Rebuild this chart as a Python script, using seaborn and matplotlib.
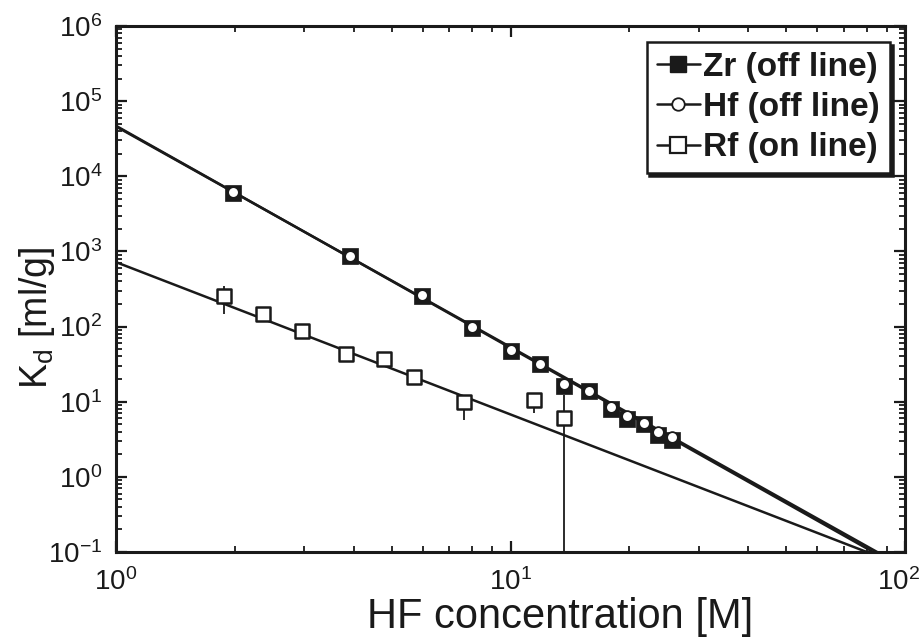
import matplotlib
matplotlib.use("Agg")
import matplotlib.pyplot as plt
import seaborn as sns
import numpy as np
import pandas as pd
from matplotlib.lines import Line2D
from matplotlib.ticker import LogLocator, NullFormatter
from matplotlib.transforms import ScaledTranslation

# ---------------- data ----------------
hf_conc = [1.98, 3.92, 5.96, 7.97, 10.0, 11.9, 13.7, 15.8, 18.0, 19.7, 21.8, 23.6, 25.7]
zr_kd = [6000, 880, 255, 97, 48, 31.5, 16.0, 13.8, 8.0, 5.9, 5.0, 3.6, 3.1]
hf_kd = [6100, 880, 260, 98, 49, 32, 17.0, 14.0, 8.4, 6.4, 5.2, 4.0, 3.4]

rf_conc = [1.88, 2.36, 2.96, 3.82, 4.79, 5.69, 7.64, 11.5, 13.66]
rf_kd = [259, 148, 87, 42.6, 36.6, 21.3, 9.9, 10.4, 6.0]
rf_low = [149, 148, 87, 42.6, 36.6, 21.3, 5.7, 7.1, 0.01]
rf_high = [352, 148, 87, 42.6, 36.6, 21.3, 9.9, 10.4, 12.3]

fit_zr_x = [1.0, 83.0]
fit_zr_y = [4.7e4, 0.1]
fit_hf_x = [1.0, 85.0]
fit_hf_y = [4.6e4, 0.1]
fit_rf_x = [1.0, 80.0]
fit_rf_y = [720, 0.1]

x_ticks = [1, 10, 100]
x_ticklabels = [r"$10^{0}$", r"$10^{1}$", r"$10^{2}$"]

labels = ["Zr (off line)", "Hf (off line)", "Rf (on line)"]

# ---------------- style ----------------
sns.set_theme(style="ticks")
plt.rcParams["font.family"] = ["Liberation Sans", "DejaVu Sans"]
plt.rcParams["mathtext.fontset"] = "custom"
plt.rcParams["mathtext.rm"] = "Liberation Sans"
plt.rcParams["mathtext.it"] = "Liberation Sans:italic"
plt.rcParams["mathtext.bf"] = "Liberation Sans:bold"

fig = plt.figure(figsize=(9.24, 6.42), dpi=100)
ax = fig.add_axes([116 / 924, 1 - 552 / 642, (905 - 116) / 924, (552 - 26) / 642])

# fit lines
sns.lineplot(x=fit_zr_x, y=fit_zr_y, ax=ax, color="k", lw=1.8, legend=False)
sns.lineplot(x=fit_hf_x, y=fit_hf_y, ax=ax, color="k", lw=1.8, legend=False)
sns.lineplot(x=fit_rf_x, y=fit_rf_y, ax=ax, color="k", lw=1.8, legend=False)

# Rf error bars
rf_kd_a = np.array(rf_kd)
ax.errorbar(rf_conc, rf_kd,
            yerr=[rf_kd_a - np.array(rf_low), np.array(rf_high) - rf_kd_a],
            fmt="none", ecolor="k", elinewidth=1.3, capsize=0, zorder=3)

# markers
sns.scatterplot(x=hf_conc, y=zr_kd, ax=ax, marker="s", s=145, color="k",
                edgecolor="k", linewidth=0.5, zorder=4, legend=False)
sns.scatterplot(x=hf_conc, y=hf_kd, ax=ax, marker="o", s=60, color="white",
                edgecolor="k", linewidth=1.3, zorder=5, legend=False)
sns.scatterplot(x=rf_conc, y=rf_kd, ax=ax, marker="s", s=110, color="white",
                edgecolor="k", linewidth=1.8, zorder=5, legend=False)

ax.set_xscale("log")
ax.set_yscale("log")
ax.set_xlim(1, 100)
ax.set_ylim(0.1, 1e6)

ax.set_xticks(x_ticks, labels=x_ticklabels)
ax.yaxis.set_major_locator(LogLocator(base=10, numticks=10))
ax.xaxis.set_minor_locator(LogLocator(base=10, subs=np.arange(2, 10), numticks=20))
ax.yaxis.set_minor_locator(LogLocator(base=10, subs=np.arange(2, 10), numticks=20))
ax.xaxis.set_minor_formatter(NullFormatter())
ax.yaxis.set_minor_formatter(NullFormatter())

ax.tick_params(which="both", direction="in", top=True, right=True, colors="k")
ax.tick_params(which="major", length=8, width=1.6, labelsize=20)
ax.tick_params(axis="x", which="major", pad=12)
ax.tick_params(axis="y", which="major", pad=10)
ax.tick_params(which="minor", length=4, width=1.3)
for sp in ax.spines.values():
    sp.set_linewidth(2.2)
    sp.set_color("k")
ax.grid(False)

ax.set_xlabel("HF concentration [M]", fontsize=30, color="k")
ax.set_ylabel(r"K$_{\mathrm{d}}$ [ml/g]", fontsize=27, color="k")
ax.xaxis.set_label_coords(0.563, -0.085)
ax.yaxis.set_label_coords(-0.075, 0.445)

handles = [
    Line2D([], [], color="k", lw=1.8, marker="s", markersize=12,
           markerfacecolor="k", markeredgecolor="k"),
    Line2D([], [], color="k", lw=1.8, marker="o", markersize=9,
           markerfacecolor="white", markeredgecolor="k", markeredgewidth=1.3),
    Line2D([], [], color="k", lw=1.8, marker="s", markersize=11,
           markerfacecolor="white", markeredgecolor="k", markeredgewidth=1.6),
]
leg = ax.legend(handles, labels, loc="upper right", bbox_to_anchor=(0.981, 0.97),
                prop={"weight": "bold", "size": 24}, frameon=True, fancybox=False,
                shadow={"color": "k", "alpha": 1}, handlelength=1.3,
                handletextpad=0.1, borderpad=0.3, labelspacing=0.28,
                borderaxespad=0.0)
leg.get_frame().set_edgecolor("k")
leg.get_frame().set_linewidth(1.8)
leg.get_frame().set_facecolor("white")
leg.get_frame().set_alpha(1)
for t in leg.get_texts():
    t.set_color("k")

# keep the rightmost x tick label inside the canvas
last = ax.get_xticklabels()[-1]
last.set_transform(last.get_transform() + ScaledTranslation(-0.06, 0, fig.dpi_scale_trans))

fig.savefig("out.png", dpi=100)
